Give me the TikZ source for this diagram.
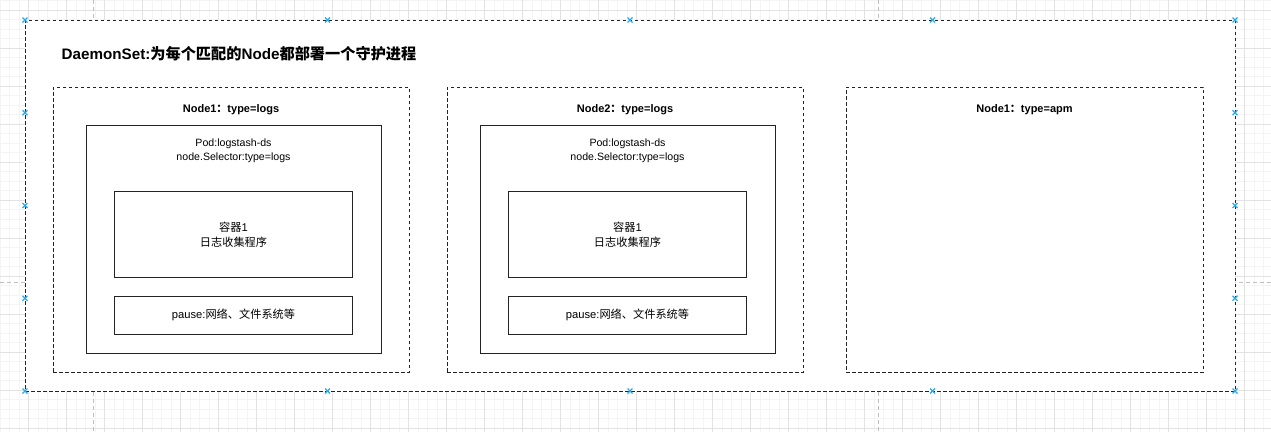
\documentclass[tikz,border=0pt]{standalone}
\usepackage{fontspec}
\setmainfont{Liberation Sans}
\newfontfamily\cjk{Noto Sans CJK SC}
\newcommand\zh[1]{{\cjk #1}}
\definecolor{gridminor}{RGB}{244,244,244}
\definecolor{gridmajor}{RGB}{226,226,226}
\definecolor{pagebreak}{RGB}{190,190,190}
\definecolor{handle}{RGB}{41,170,235}
\definecolor{edge}{RGB}{35,35,35}
\begin{document}
\begin{tikzpicture}[x=1pt,y=-1pt,
  dashbox/.style={draw=edge,fill=white,line width=1pt,dash pattern=on 3.5pt off 2.5pt,anchor=north west,inner sep=0pt,outer sep=0pt},
  solidbox/.style={draw=edge,fill=white,line width=1pt,anchor=north west,inner sep=0pt,outer sep=0pt},
  titletext/.style={font=\bfseries\fontsize{15.2}{18}\selectfont,anchor=west,inner sep=0pt},
  nodelabel/.style={font=\bfseries\fontsize{11}{13}\selectfont,inner sep=0pt},
  podtext/.style={font=\fontsize{10.6}{14}\selectfont,align=center,inner sep=0pt},
  plaintext/.style={font=\fontsize{11.2}{14.7}\selectfont,align=center,inner sep=0pt},
  handlemark/.style={draw=handle,line width=1.1pt}
]
\useasboundingbox (0,0) rectangle (1271,432);
\fill[white] (0,0) rectangle (1271,432);
% grid
\foreach \i in {0,...,133} \draw[gridminor,line width=1pt] ({0.2+9.5*\i},0) -- ({0.2+9.5*\i},432);
\foreach \j in {0,...,45} \draw[gridminor,line width=1pt] (0,{0.5+9.5*\j}) -- (1271,{0.5+9.5*\j});
\foreach \i in {0,...,33} \draw[gridmajor,line width=1pt] ({28.7+38*\i},0) -- ({28.7+38*\i},432);
\foreach \j in {0,...,11} \draw[gridmajor,line width=1pt] (0,{10+38*\j}) -- (1271,{10+38*\j});
% page breaks
\draw[pagebreak,line width=1pt,dash pattern=on 4pt off 3pt] (93.3,0) -- (93.3,432);
\draw[pagebreak,line width=1pt,dash pattern=on 4pt off 3pt] (878.3,0) -- (878.3,432);
\draw[pagebreak,line width=1pt,dash pattern=on 4pt off 3pt] (0,282.3) -- (1271,282.3);
% outer container
\node[dashbox,minimum width=1210pt,minimum height=371pt] (outer) at (25,20) {};
\node[titletext] (title) at (61.5,53.5) {DaemonSet:\zh{为每个匹配的}Node\zh{都部署一个守护进程}};
% node boxes
\node[dashbox,minimum width=356pt,minimum height=285pt] (n1) at (53,87) {};
\node[dashbox,minimum width=356pt,minimum height=285pt] (n2) at (447,87) {};
\node[dashbox,minimum width=357pt,minimum height=285pt] (n3) at (846,87) {};
\node[nodelabel] (n1l) at (231,110) {Node1\zh{：}type=logs};
\node[nodelabel] (n2l) at (625,110) {Node2\zh{：}type=logs};
\node[nodelabel] (n3l) at (1024.5,110) {Node1\zh{：}type=apm};
% pods
\node[solidbox,minimum width=295pt,minimum height=228pt] (p1) at (86,125) {};
\node[solidbox,minimum width=295pt,minimum height=228pt] (p2) at (480,125) {};
\node[podtext] (p1t) at (233.5,150.5) {Pod:logstash-ds\\node.Selector:type=logs};
\node[podtext] (p2t) at (627.5,150.5) {Pod:logstash-ds\\node.Selector:type=logs};
% containers
\node[solidbox,minimum width=238pt,minimum height=86pt] (c1) at (114.5,191.5) {};
\node[solidbox,minimum width=238pt,minimum height=86pt] (c2) at (508.5,191.5) {};
\node[plaintext] (c1t) at (c1.center) {\zh{容器}1\\\zh{日志收集程序}};
\node[plaintext] (c2t) at (c2.center) {\zh{容器}1\\\zh{日志收集程序}};
% pause
\node[solidbox,minimum width=238pt,minimum height=38.5pt] (s1) at (114.5,296) {};
\node[solidbox,minimum width=238pt,minimum height=38.5pt] (s2) at (508.5,296) {};
\node[plaintext] (s1t) at (s1.center) {pause:\zh{网络、文件系统等}};
\node[plaintext] (s2t) at (s2.center) {pause:\zh{网络、文件系统等}};
% selection handles
\foreach \x in {25,327.5,630,932.5,1235} {
  \foreach \y in {20,391} {
    \draw[handlemark] (\x-2.5,\y-2.5) -- (\x+2.5,\y+2.5) (\x-2.5,\y+2.5) -- (\x+2.5,\y-2.5);
  }
}
\foreach \y in {112.75,205.5,298.25} {
  \foreach \x in {25,1235} {
    \draw[handlemark] (\x-2.5,\y-2.5) -- (\x+2.5,\y+2.5) (\x-2.5,\y+2.5) -- (\x+2.5,\y-2.5);
  }
}
\end{tikzpicture}
\end{document}
